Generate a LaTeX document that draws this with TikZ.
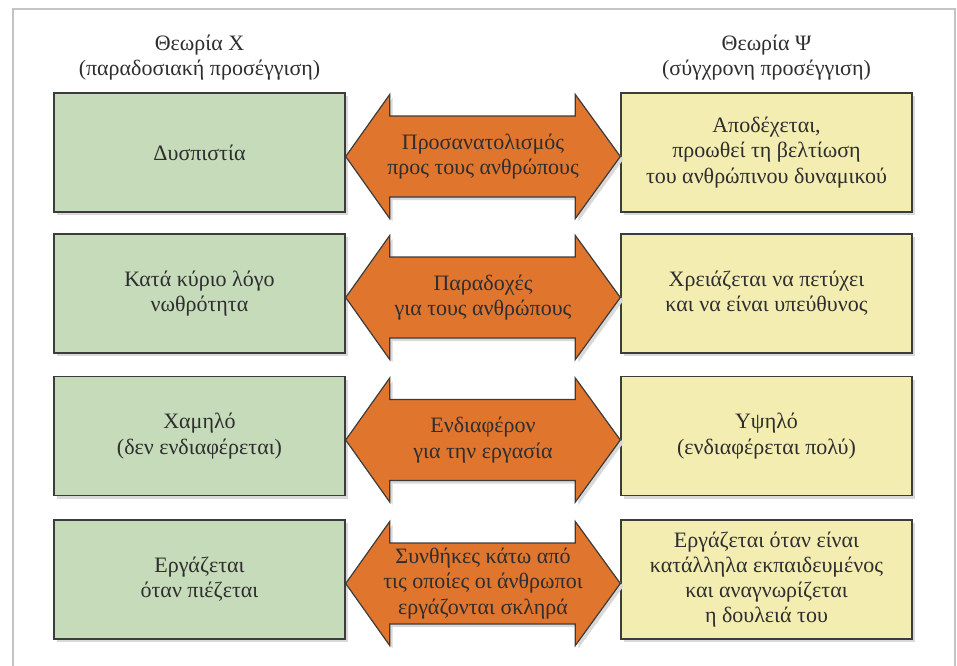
\documentclass[tikz,border=0pt]{standalone}
\usepackage{fontspec}
\setmainfont{Liberation Serif}
\usetikzlibrary{calc,shadows}

\definecolor{theoryXGreen}{HTML}{C5DBBA}
\definecolor{theoryYYellow}{HTML}{F4EDB2}
\definecolor{linkOrange}{HTML}{E0752E}
\definecolor{edgeGray}{HTML}{3C3C3C}
\definecolor{textGray}{HTML}{2E2E2E}
\definecolor{shadowGray}{HTML}{D9D9D9}
\definecolor{frameGray}{HTML}{C4C4C4}

\begin{document}
\begin{tikzpicture}[
  x=0.5pt, y=-0.5pt,
  every node/.style={font=\fontsize{11}{12.6}\selectfont, text=textGray, align=center},
  box shadow/.style={drop shadow={shadow xshift=1.5pt, shadow yshift=-1.5pt, fill=shadowGray, opacity=1}},
  theory box/.style={draw=edgeGray, line width=0.7pt, minimum width=145.5pt, minimum height=59.5pt, inner sep=2pt, box shadow},
  x box/.style={theory box, fill=theoryXGreen},
  y box/.style={theory box, fill=theoryYYellow},
  header/.style={inner sep=0pt},
  link arrow/.style={draw=edgeGray, line width=0.6pt, fill=linkOrange, line join=miter, box shadow},
  link text/.style={inner sep=0pt}
]
\useasboundingbox (0,0) rectangle (957,665);

% Column centres (picture units = pixels of the layout).
\def\xCol{199.5}
\def\yCol{766.5}

% -----------------------------------------------------------------------------
% Outer frame, open at the bottom.
% -----------------------------------------------------------------------------
\draw[frameGray, line width=1pt] (13,700) -- (13,9) -- (955,9) -- (955,700);

% -----------------------------------------------------------------------------
% Column headers.
% -----------------------------------------------------------------------------
\node[header] (xHead) at (\xCol,57.5) {Θεωρία Χ\\(παραδοσιακή προσέγγιση)};
\node[header] (yHead) at (\yCol,57.5) {Θεωρία Ψ\\(σύγχρονη προσέγγιση)};

% -----------------------------------------------------------------------------
% Left column: Theory X.
% -----------------------------------------------------------------------------
\node[x box] (xBox1) at (\xCol,152.5) {Δυσπιστία};
\node[x box] (xBox2) at (\xCol,293.5) {Κατά κύριο λόγο\\νωθρότητα};
\node[x box] (xBox3) at (\xCol,436) {Χαμηλό\\(δεν ενδιαφέρεται)};
\node[x box] (xBox4) at (\xCol,579.5) {Εργάζεται\\όταν πιέζεται};

% -----------------------------------------------------------------------------
% Right column: Theory Y.
% -----------------------------------------------------------------------------
\node[y box] (yBox1) at (\yCol,152.5) {Αποδέχεται,\\προωθεί τη βελτίωση\\του ανθρώπινου δυναμικού};
\node[y box] (yBox2) at (\yCol,293.5) {Χρειάζεται να πετύχει\\και να είναι υπεύθυνος};
\node[y box] (yBox3) at (\yCol,436) {Υψηλό\\(ενδιαφέρεται πολύ)};
\node[y box] (yBox4) at (\yCol,579.5) {Εργάζεται όταν είναι\\κατάλληλα εκπαιδευμένος\\και αναγνωρίζεται\\η δουλειά του};

% -----------------------------------------------------------------------------
% Double arrows between the two columns; tips touch the boxes.
% -----------------------------------------------------------------------------
\foreach \row in {1,...,4} {
  \coordinate (tipL\row) at ([yshift=-2pt]xBox\row.east);
  \coordinate (tipR\row) at ([yshift=-2pt]yBox\row.west);
  \draw[link arrow] (tipL\row) -- ++(44,-62) -- ++(0,21.5)
    -- ($(tipR\row)+(-45,-40.5)$) -- ++(0,-21.5) -- (tipR\row)
    -- ++(-45,62) -- ++(0,-21.5) -- ($(tipL\row)+(44,40.5)$) -- ++(0,21.5) -- cycle;
}

\node[link text] (link1) at ($(tipL1)!0.5!(tipR1)$) {Προσανατολισμός\\προς τους ανθρώπους};
\node[link text] (link2) at ($(tipL2)!0.5!(tipR2)$) {Παραδοχές\\για τους ανθρώπους};
\node[link text] (link3) at ($(tipL3)!0.5!(tipR3)$) {Ενδιαφέρον\\για την εργασία};
\node[link text] (link4) at ($(tipL4)!0.5!(tipR4)$) {Συνθήκες κάτω από\\τις οποίες οι άνθρωποι\\εργάζονται σκληρά};

\end{tikzpicture}
\end{document}
